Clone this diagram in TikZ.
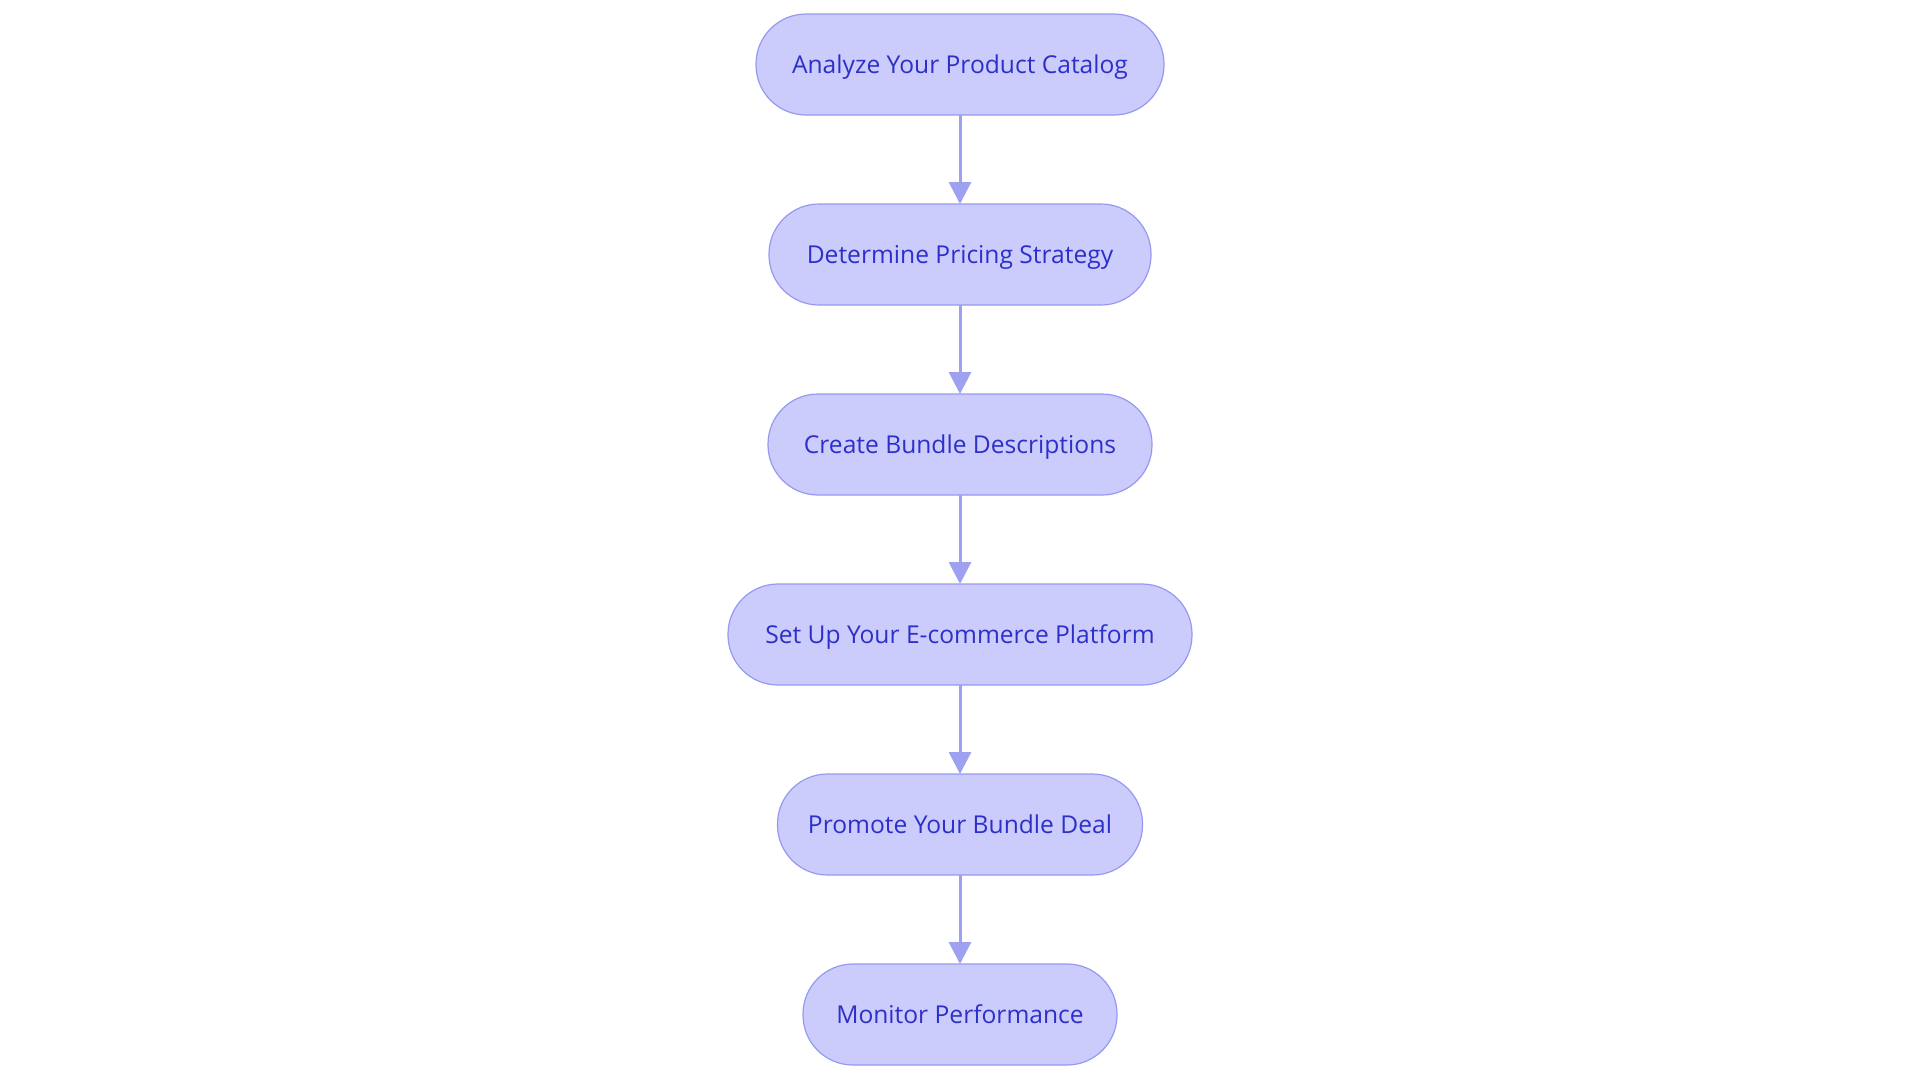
\documentclass[tikz,border=0pt]{standalone}
\usepackage{fontspec}
\setmainfont{Open Sans}
\usepackage{tikz}
\usetikzlibrary{positioning}
\usetikzlibrary{arrows.meta}

\definecolor{stepfill}{RGB}{203,204,252}
\definecolor{stepline}{RGB}{150,153,240}
\definecolor{steptext}{RGB}{44,48,200}
\definecolor{flowline}{RGB}{158,161,240}

\tikzset{
  stepbox/.style={draw=stepline, fill=stepfill, text=steptext, line width=0.6pt,
    rounded corners=25pt, minimum height=50.5pt, inner xsep=0pt, outer sep=0pt,
    text height=9pt, text depth=0pt,
    font=\fontsize{12.3pt}{15pt}\selectfont},
  flow/.style={draw=flowline, line width=1.5pt,
    -{Triangle[width=11pt, length=11pt]}}
}

\begin{document}
\begin{tikzpicture}[x=0.5pt, y=-0.5pt, node distance=44.5pt]
  \useasboundingbox (0,0) rectangle (1920,1083);
  \node[stepbox, minimum width=204pt] (analyze) at (960,64.5) {Analyze Your Product Catalog};
  \node[stepbox, minimum width=191pt, below=of analyze] (pricing) {Determine Pricing Strategy};
  \node[stepbox, minimum width=192pt, below=of pricing] (describe) {Create Bundle Descriptions};
  \node[stepbox, minimum width=232pt, below=of describe] (platform) {Set Up Your E-commerce Platform};
  \node[stepbox, minimum width=182.5pt, below=of platform] (promote) {Promote Your Bundle Deal};
  \node[stepbox, minimum width=157pt, below=of promote] (monitor) {Monitor Performance};

  \draw[flow] (analyze) -- (pricing);
  \draw[flow] (pricing) -- (describe);
  \draw[flow] (describe) -- (platform);
  \draw[flow] (platform) -- (promote);
  \draw[flow] (promote) -- (monitor);
\end{tikzpicture}
\end{document}
